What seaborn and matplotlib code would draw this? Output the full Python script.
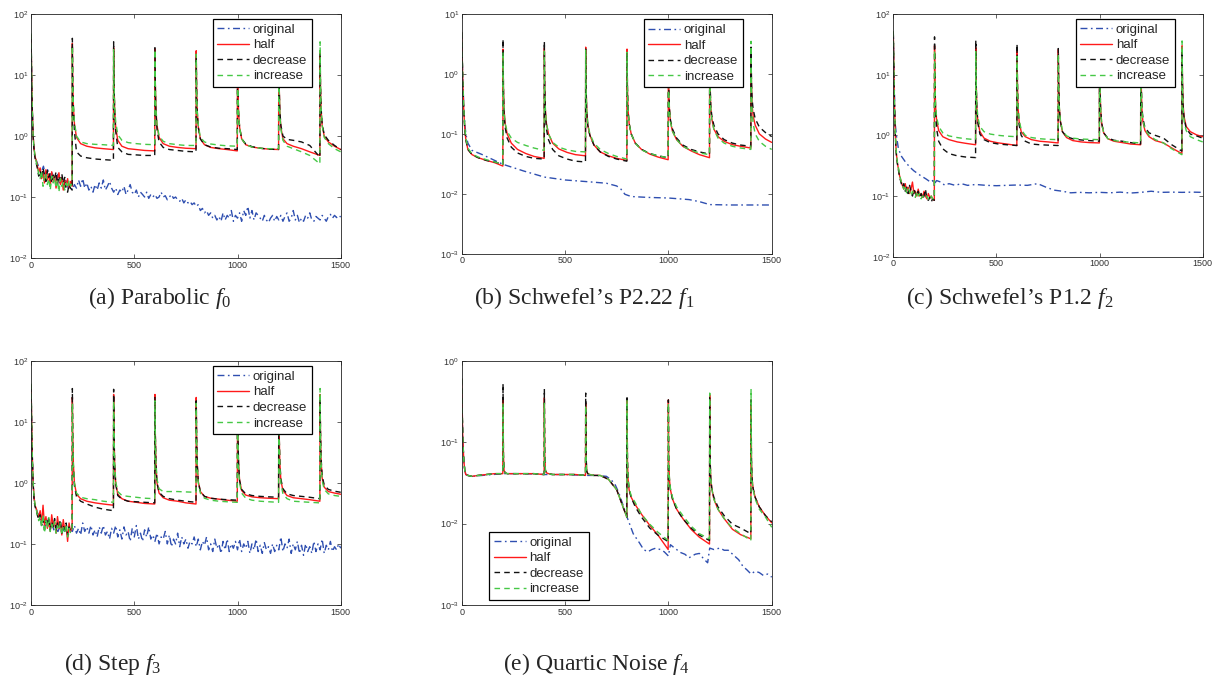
import matplotlib
matplotlib.use('Agg')
import math
import matplotlib.pyplot as plt
from matplotlib.lines import Line2D
from matplotlib.ticker import FixedLocator, FuncFormatter, NullLocator
import seaborn as sns

sns.set_theme(style='ticks')
plt.rcParams['font.family'] = ['Liberation Sans', 'DejaVu Sans']
plt.rcParams['mathtext.fontset'] = 'custom'
plt.rcParams['mathtext.rm'] = 'Liberation Serif'
plt.rcParams['mathtext.it'] = 'Liberation Serif:italic'
plt.rcParams['mathtext.sf'] = 'Liberation Sans'

# ---- shared sample grids ----
restarts = [200, 400, 600, 800, 1000, 1200, 1400]
seg_t = [0, 2, 5, 10, 20, 40, 70, 110, 150, 199]
last_t = [0, 2, 5, 10, 20, 40, 70, 100]
start_noisy = [0, 2, 5, 10, 15, 20, 25, 30, 37, 44, 51, 58, 65, 72, 79, 86,
               93, 100, 107, 114, 121, 128, 135, 142, 149, 156, 163, 170, 177, 184, 191, 199]
start_smooth = [0, 2, 5, 10, 15, 20, 30, 50, 80, 120, 160, 199]
x_dense = [0, 2, 5, 10, 15, 20, 25, 30] + list(range(40, 1501, 10))

# ---- (a) Parabolic ----
a_half0 = [45, 15, 3.5, 1.0, 0.6, 0.45, 0.4, 0.33, 0.26, 0.3, 0.2, 0.25, 0.17, 0.28, 0.19, 0.24,
           0.15, 0.26, 0.18, 0.22, 0.14, 0.2, 0.25, 0.16, 0.21, 0.13, 0.19, 0.15, 0.2, 0.14, 0.18, 0.15]
a_dec0 = [42, 14, 3.2, 0.95, 0.55, 0.42, 0.36, 0.3, 0.22, 0.27, 0.2, 0.3, 0.23, 0.18, 0.27, 0.21,
          0.25, 0.17, 0.23, 0.2, 0.26, 0.16, 0.22, 0.19, 0.24, 0.17, 0.21, 0.13, 0.12, 0.16, 0.14, 0.13]
a_inc0 = [48, 16, 3.8, 1.0, 0.6, 0.46, 0.38, 0.32, 0.24, 0.2, 0.27, 0.15, 0.22, 0.25, 0.16, 0.2,
          0.13, 0.22, 0.17, 0.21, 0.14, 0.19, 0.12, 0.2, 0.15, 0.18, 0.13, 0.17, 0.14, 0.19, 0.15, 0.17]
a_half = [[33, 8, 3, 1.6, 0.95, 0.75, 0.68, 0.64, 0.62, 0.6],
          [28, 7, 2.6, 1.4, 0.85, 0.68, 0.62, 0.6, 0.58, 0.57],
          [27, 7, 2.6, 1.5, 0.95, 0.75, 0.68, 0.65, 0.63, 0.62],
          [25, 6.5, 2.5, 1.4, 0.9, 0.72, 0.65, 0.62, 0.6, 0.57],
          [25, 6.5, 2.5, 1.4, 0.9, 0.72, 0.66, 0.63, 0.61, 0.6],
          [25, 6.5, 2.5, 1.4, 0.9, 0.75, 0.68, 0.62, 0.55, 0.48],
          [25, 6.5, 2.6, 1.5, 1.0, 0.8, 0.68, 0.6]]
a_dec = [[40, 8, 3, 1.2, 0.55, 0.47, 0.44, 0.42, 0.41, 0.4],
         [35, 7, 2.5, 1.2, 0.65, 0.55, 0.5, 0.49, 0.48, 0.48],
         [28, 6.5, 2.4, 1.3, 0.8, 0.65, 0.6, 0.58, 0.56, 0.55],
         [20, 6, 2.4, 1.4, 0.9, 0.72, 0.66, 0.63, 0.62, 0.6],
         [22, 6, 2.4, 1.4, 0.9, 0.74, 0.67, 0.63, 0.61, 0.6],
         [22, 6.5, 2.6, 1.5, 1.0, 0.88, 0.85, 0.8, 0.7, 0.45],
         [22, 7, 2.8, 1.6, 1.05, 0.85, 0.7, 0.6]]
a_inc = [[30, 8, 3.2, 1.7, 1.0, 0.8, 0.75, 0.73, 0.72, 0.7],
         [26, 7.5, 3, 1.7, 1.05, 0.85, 0.78, 0.75, 0.73, 0.72],
         [26, 7, 2.8, 1.6, 1.0, 0.82, 0.75, 0.72, 0.7, 0.7],
         [22, 6.5, 2.6, 1.5, 0.95, 0.8, 0.74, 0.71, 0.69, 0.68],
         [22, 6.5, 2.5, 1.4, 0.9, 0.72, 0.66, 0.63, 0.62, 0.62],
         [20, 6, 2.4, 1.3, 0.85, 0.68, 0.62, 0.55, 0.48, 0.35],
         [35, 8, 3, 1.5, 0.95, 0.75, 0.62, 0.55]]
a_orig = [45, 15, 3.5, 1.0, 0.6, 0.45, 0.4, 0.36,
          0.3, 0.26, 0.32, 0.22, 0.28, 0.2, 0.25, 0.22, 0.18, 0.24, 0.17, 0.21, 0.15, 0.2, 0.14, 0.16,
          0.13, 0.16, 0.14, 0.19, 0.15, 0.2, 0.14, 0.17, 0.13, 0.15, 0.12, 0.16, 0.13, 0.17, 0.14, 0.19, 0.13, 0.15, 0.18, 0.14,
          0.12, 0.14, 0.11, 0.13, 0.12, 0.15, 0.11, 0.13, 0.16, 0.12, 0.11, 0.13, 0.1, 0.12, 0.11, 0.1, 0.12, 0.095, 0.11, 0.1,
          0.11, 0.095, 0.1, 0.12, 0.1, 0.105, 0.09, 0.1, 0.11, 0.095, 0.1, 0.09, 0.085, 0.095, 0.08, 0.09, 0.08, 0.085, 0.075, 0.08,
          0.07, 0.075, 0.06, 0.065, 0.055, 0.06, 0.05, 0.055, 0.045, 0.05, 0.042, 0.048, 0.04, 0.055, 0.042, 0.05, 0.045, 0.06, 0.04, 0.05,
          0.045, 0.055, 0.04, 0.06, 0.05, 0.07, 0.045, 0.06, 0.042, 0.055, 0.05, 0.045, 0.04, 0.05, 0.042, 0.038, 0.045, 0.05, 0.04, 0.048,
          0.042, 0.05, 0.04, 0.048, 0.055, 0.04, 0.045, 0.06, 0.042, 0.05, 0.038, 0.045, 0.04, 0.05, 0.045, 0.055, 0.042, 0.04, 0.048, 0.045,
          0.042, 0.05, 0.045, 0.04, 0.048, 0.052, 0.045, 0.05, 0.046, 0.05, 0.047]

# ---- (b) Schwefel's P2.22 ----
b_half0 = [5, 2.5, 0.8, 0.25, 0.12, 0.08, 0.055, 0.045, 0.04, 0.036, 0.033, 0.029]
b_dec0 = [4.8, 2.4, 0.8, 0.25, 0.12, 0.08, 0.055, 0.045, 0.04, 0.036, 0.034, 0.031]
b_inc0 = [5, 2.6, 0.85, 0.27, 0.13, 0.085, 0.058, 0.046, 0.041, 0.037, 0.034, 0.031]
b_half = [[2.6, 0.6, 0.25, 0.15, 0.1, 0.07, 0.055, 0.047, 0.042, 0.039],
          [2.7, 0.6, 0.25, 0.15, 0.1, 0.07, 0.056, 0.049, 0.045, 0.043],
          [2.8, 0.6, 0.25, 0.14, 0.095, 0.065, 0.05, 0.043, 0.039, 0.036],
          [2.6, 0.6, 0.25, 0.15, 0.1, 0.07, 0.055, 0.046, 0.041, 0.037],
          [2.5, 0.6, 0.26, 0.16, 0.11, 0.08, 0.062, 0.052, 0.045, 0.04],
          [2.5, 0.6, 0.28, 0.18, 0.12, 0.09, 0.075, 0.066, 0.062, 0.058],
          [2.6, 0.7, 0.3, 0.2, 0.14, 0.1, 0.082, 0.072]]
b_dec = [[3.8, 0.6, 0.22, 0.13, 0.085, 0.06, 0.048, 0.042, 0.039, 0.038],
         [3.5, 0.6, 0.22, 0.12, 0.08, 0.055, 0.043, 0.038, 0.035, 0.034],
         [2.6, 0.55, 0.23, 0.14, 0.095, 0.065, 0.05, 0.042, 0.038, 0.035],
         [2.3, 0.55, 0.24, 0.15, 0.1, 0.07, 0.055, 0.047, 0.043, 0.04],
         [2.5, 0.6, 0.27, 0.17, 0.12, 0.085, 0.065, 0.055, 0.05, 0.046],
         [2.5, 0.65, 0.3, 0.2, 0.14, 0.1, 0.08, 0.07, 0.065, 0.062],
         [2.8, 0.8, 0.38, 0.26, 0.18, 0.13, 0.105, 0.09]]
b_inc = [[2.3, 0.55, 0.24, 0.15, 0.11, 0.085, 0.072, 0.064, 0.058, 0.053],
         [2.4, 0.6, 0.25, 0.15, 0.1, 0.072, 0.06, 0.054, 0.051, 0.05],
         [2.5, 0.58, 0.25, 0.15, 0.1, 0.07, 0.055, 0.047, 0.042, 0.038],
         [2.3, 0.55, 0.24, 0.15, 0.1, 0.07, 0.054, 0.047, 0.043, 0.04],
         [2.4, 0.6, 0.26, 0.16, 0.11, 0.08, 0.062, 0.053, 0.048, 0.045],
         [2.4, 0.6, 0.27, 0.17, 0.12, 0.085, 0.07, 0.062, 0.058, 0.055],
         [3.5, 0.6, 0.25, 0.15, 0.1, 0.075, 0.062, 0.055]]
b_orig_x = [0, 2, 5, 10, 15, 20, 30, 50, 100, 200, 300, 400, 500, 600, 700, 750, 770, 790, 820,
            900, 1000, 1100, 1150, 1200, 1300, 1400, 1500]
b_orig = [5, 2.5, 0.9, 0.3, 0.15, 0.1, 0.07, 0.053, 0.045, 0.031, 0.024, 0.019, 0.017, 0.016, 0.015,
          0.0135, 0.012, 0.0098, 0.009, 0.0087, 0.0085, 0.008, 0.0074, 0.0066, 0.0065, 0.0065, 0.0065]

# ---- (c) Schwefel's P1.2 ----
c_half0 = [50, 20, 4, 1.0, 0.5, 0.35, 0.28, 0.22, 0.18, 0.15, 0.13, 0.16, 0.12, 0.14, 0.11, 0.13,
           0.17, 0.11, 0.12, 0.1, 0.13, 0.1, 0.11, 0.095, 0.12, 0.1, 0.09, 0.11, 0.095, 0.1, 0.088, 0.085]
c_dec0 = [48, 19, 3.8, 0.95, 0.48, 0.34, 0.27, 0.21, 0.17, 0.14, 0.16, 0.12, 0.14, 0.11, 0.15, 0.12,
          0.1, 0.13, 0.11, 0.1, 0.12, 0.095, 0.11, 0.09, 0.1, 0.13, 0.09, 0.085, 0.095, 0.08, 0.09, 0.085]
c_inc0 = [52, 21, 4.2, 1.05, 0.52, 0.36, 0.29, 0.23, 0.18, 0.15, 0.13, 0.15, 0.11, 0.13, 0.12, 0.1,
          0.12, 0.11, 0.095, 0.12, 0.1, 0.11, 0.09, 0.1, 0.095, 0.09, 0.1, 0.09, 0.085, 0.1, 0.09, 0.09]
c_half = [[30, 8, 3, 1.8, 1.2, 0.95, 0.85, 0.78, 0.74, 0.7],
          [28, 7, 2.8, 1.7, 1.15, 0.9, 0.8, 0.75, 0.72, 0.68],
          [25, 7, 2.8, 1.7, 1.15, 0.95, 0.85, 0.8, 0.78, 0.75],
          [26, 7, 2.8, 1.7, 1.15, 0.92, 0.82, 0.78, 0.76, 0.75],
          [25, 7, 2.8, 1.6, 1.1, 0.88, 0.8, 0.76, 0.72, 0.7],
          [25, 7, 2.8, 1.7, 1.2, 0.95, 0.82, 0.75, 0.62, 0.5],
          [30, 8, 3.2, 2.0, 1.4, 1.15, 1.02, 0.95]]
c_dec = [[42, 8, 2.5, 1.3, 0.8, 0.6, 0.5, 0.46, 0.44, 0.43],
         [37, 7.5, 2.8, 1.6, 1.05, 0.85, 0.76, 0.72, 0.7, 0.68],
         [32, 7, 2.6, 1.5, 1.0, 0.8, 0.72, 0.7, 0.69, 0.68],
         [27, 7, 2.8, 1.7, 1.15, 0.95, 0.88, 0.84, 0.82, 0.8],
         [25, 7, 2.8, 1.6, 1.1, 0.9, 0.83, 0.8, 0.76, 0.72],
         [25, 7.5, 3, 1.9, 1.35, 1.1, 1.0, 0.9, 0.7, 0.55],
         [25, 7.5, 3, 1.9, 1.3, 1.05, 0.98, 0.9]]
c_inc = [[25, 8, 3.2, 2.0, 1.4, 1.1, 0.98, 0.92, 0.88, 0.85],
         [24, 7.5, 3.2, 2.0, 1.4, 1.15, 1.05, 1.0, 0.97, 0.95],
         [20, 7, 3, 1.8, 1.25, 1.0, 0.92, 0.88, 0.86, 0.85],
         [22, 7, 2.9, 1.8, 1.2, 0.98, 0.9, 0.87, 0.86, 0.85],
         [22, 7, 2.8, 1.6, 1.1, 0.88, 0.82, 0.79, 0.77, 0.75],
         [22, 7, 2.8, 1.8, 1.25, 1.0, 0.85, 0.75, 0.6, 0.48],
         [36, 7, 2.8, 1.7, 1.2, 0.95, 0.85, 0.78]]
c_orig_x = [0, 2, 5, 10, 15, 25, 40, 60, 80, 100, 130, 160, 180, 190, 200, 210, 230, 250, 270, 300,
            330, 360, 400, 450, 500, 550, 600, 650, 700, 740, 780, 820, 860, 900, 950, 1000, 1050,
            1100, 1150, 1200, 1250, 1300, 1350, 1400, 1450, 1500]
c_orig = [50, 25, 6, 1.5, 1.0, 0.6, 0.45, 0.36, 0.3, 0.26, 0.22, 0.19, 0.17, 0.18, 0.16, 0.18, 0.17,
          0.15, 0.16, 0.15, 0.16, 0.15, 0.155, 0.15, 0.148, 0.15, 0.152, 0.15, 0.16, 0.14, 0.125, 0.12,
          0.113, 0.115, 0.113, 0.115, 0.113, 0.116, 0.112, 0.115, 0.12, 0.115, 0.116, 0.115, 0.116, 0.115]

# ---- (d) Step ----
d_half0 = [40, 15, 3.5, 1.0, 0.55, 0.42, 0.38, 0.32, 0.28, 0.35, 0.22, 0.43, 0.2, 0.28, 0.18, 0.25,
           0.16, 0.3, 0.2, 0.24, 0.15, 0.28, 0.18, 0.22, 0.14, 0.25, 0.17, 0.2, 0.11, 0.22, 0.16, 0.19]
d_dec0 = [38, 14, 3.3, 0.95, 0.5, 0.4, 0.36, 0.3, 0.25, 0.3, 0.2, 0.26, 0.17, 0.24, 0.2, 0.28,
          0.17, 0.23, 0.19, 0.26, 0.16, 0.22, 0.19, 0.25, 0.15, 0.2, 0.17, 0.22, 0.14, 0.19, 0.16, 0.18]
d_inc0 = [42, 16, 3.7, 1.05, 0.56, 0.43, 0.37, 0.31, 0.24, 0.28, 0.19, 0.3, 0.15, 0.24, 0.18, 0.27,
          0.16, 0.21, 0.18, 0.23, 0.15, 0.2, 0.17, 0.22, 0.14, 0.19, 0.16, 0.21, 0.13, 0.18, 0.15, 0.17]
d_half = [[25, 6, 2, 1.0, 0.65, 0.55, 0.5, 0.47, 0.45, 0.43],
          [28, 6, 2, 1.0, 0.65, 0.55, 0.5, 0.48, 0.46, 0.45],
          [28, 6, 2, 1.0, 0.68, 0.57, 0.52, 0.5, 0.47, 0.45],
          [25, 6, 2, 1.05, 0.72, 0.6, 0.56, 0.54, 0.52, 0.5],
          [22, 6, 2.1, 1.1, 0.75, 0.63, 0.59, 0.57, 0.56, 0.55],
          [22, 6, 2.1, 1.1, 0.75, 0.62, 0.57, 0.55, 0.53, 0.5],
          [28, 6.5, 2.3, 1.2, 0.85, 0.72, 0.68, 0.65]]
d_dec = [[35, 6, 1.8, 0.9, 0.6, 0.5, 0.45, 0.4, 0.37, 0.35],
         [34, 6, 1.9, 0.95, 0.62, 0.54, 0.5, 0.49, 0.48, 0.47],
         [25, 6, 2, 1.0, 0.7, 0.6, 0.55, 0.52, 0.5, 0.48],
         [22, 6, 2, 1.05, 0.72, 0.6, 0.56, 0.54, 0.53, 0.52],
         [22, 6, 2.1, 1.1, 0.78, 0.66, 0.62, 0.6, 0.59, 0.58],
         [22, 6, 2.2, 1.15, 0.8, 0.66, 0.62, 0.6, 0.58, 0.55],
         [25, 7, 2.5, 1.3, 0.92, 0.78, 0.73, 0.7]]
d_inc = [[20, 5.5, 2, 1.0, 0.68, 0.58, 0.55, 0.53, 0.5, 0.48],
         [22, 6, 2.1, 1.05, 0.72, 0.62, 0.6, 0.58, 0.56, 0.55],
         [22, 6, 2.2, 1.15, 0.8, 0.72, 0.72, 0.72, 0.71, 0.7],
         [20, 5.8, 2, 1.0, 0.68, 0.56, 0.52, 0.5, 0.49, 0.48],
         [20, 5.5, 1.9, 1.0, 0.68, 0.56, 0.52, 0.5, 0.49, 0.48],
         [20, 5.5, 1.9, 1.0, 0.66, 0.55, 0.5, 0.49, 0.48, 0.47],
         [35, 6, 2.1, 1.1, 0.78, 0.66, 0.62, 0.6]]
d_orig = [40, 15, 3.5, 1.0, 0.55, 0.42, 0.38, 0.33,
          0.28, 0.22, 0.26, 0.2, 0.24, 0.18, 0.22, 0.17, 0.2, 0.16, 0.19, 0.15, 0.18, 0.16, 0.14, 0.17,
          0.16, 0.2, 0.15, 0.18, 0.14, 0.22, 0.16, 0.19, 0.15, 0.2, 0.14, 0.17, 0.13, 0.19, 0.15, 0.2, 0.14, 0.16, 0.12, 0.18,
          0.15, 0.2, 0.13, 0.17, 0.12, 0.19, 0.14, 0.16, 0.11, 0.18, 0.13, 0.2, 0.12, 0.15, 0.11, 0.17, 0.13, 0.19, 0.12, 0.14,
          0.11, 0.15, 0.1, 0.13, 0.12, 0.16, 0.1, 0.14, 0.09, 0.12, 0.1, 0.15, 0.09, 0.13, 0.1, 0.12, 0.085, 0.11, 0.1, 0.13,
          0.09, 0.12, 0.08, 0.11, 0.095, 0.13, 0.08, 0.1, 0.075, 0.12, 0.085, 0.1, 0.07, 0.11, 0.08, 0.12, 0.075, 0.1, 0.085, 0.11,
          0.08, 0.12, 0.075, 0.1, 0.085, 0.11, 0.07, 0.1, 0.08, 0.12, 0.075, 0.095, 0.07, 0.105, 0.08, 0.09, 0.07, 0.1, 0.075, 0.095,
          0.08, 0.13, 0.075, 0.1, 0.085, 0.12, 0.07, 0.1, 0.08, 0.11, 0.07, 0.095, 0.065, 0.1, 0.075, 0.09, 0.07, 0.11, 0.075, 0.1,
          0.08, 0.12, 0.07, 0.095, 0.08, 0.11, 0.075, 0.09, 0.08, 0.1, 0.085]

# ---- (e) Quartic Noise ----
e_start0 = [0.6, 0.3, 0.12, 0.06, 0.045, 0.04, 0.039, 0.038, 0.039, 0.04, 0.041, 0.041]
e_half = [[0.35, 0.07, 0.045, 0.042, 0.041, 0.041, 0.041, 0.041, 0.041, 0.04],
          [0.35, 0.07, 0.045, 0.042, 0.041, 0.04, 0.04, 0.04, 0.04, 0.039],
          [0.3, 0.065, 0.044, 0.041, 0.04, 0.039, 0.039, 0.035, 0.026, 0.012],
          [0.33, 0.06, 0.035, 0.026, 0.021, 0.017, 0.013, 0.0095, 0.0072, 0.0048],
          [0.33, 0.06, 0.035, 0.026, 0.02, 0.015, 0.0115, 0.0085, 0.0068, 0.0056],
          [0.38, 0.06, 0.036, 0.027, 0.02, 0.015, 0.0115, 0.0085, 0.0073, 0.0065],
          [0.33, 0.06, 0.035, 0.027, 0.021, 0.016, 0.0125, 0.0102]]
e_dec = [[0.52, 0.07, 0.045, 0.042, 0.041, 0.041, 0.041, 0.041, 0.041, 0.04],
         [0.45, 0.07, 0.045, 0.042, 0.041, 0.04, 0.04, 0.04, 0.04, 0.039],
         [0.4, 0.065, 0.044, 0.041, 0.04, 0.039, 0.039, 0.035, 0.026, 0.012],
         [0.35, 0.06, 0.035, 0.026, 0.021, 0.016, 0.012, 0.0088, 0.0072, 0.006],
         [0.33, 0.06, 0.035, 0.026, 0.02, 0.015, 0.0115, 0.0088, 0.0072, 0.0062],
         [0.35, 0.06, 0.036, 0.027, 0.021, 0.016, 0.0125, 0.0098, 0.0088, 0.0075],
         [0.35, 0.06, 0.035, 0.027, 0.021, 0.016, 0.0125, 0.0105]]
e_inc = [[0.3, 0.07, 0.045, 0.042, 0.041, 0.041, 0.041, 0.041, 0.041, 0.04],
         [0.3, 0.07, 0.045, 0.042, 0.041, 0.04, 0.04, 0.04, 0.04, 0.039],
         [0.28, 0.065, 0.044, 0.041, 0.04, 0.039, 0.039, 0.035, 0.026, 0.012],
         [0.33, 0.06, 0.036, 0.027, 0.022, 0.018, 0.013, 0.0098, 0.0078, 0.0062],
         [0.3, 0.06, 0.036, 0.027, 0.021, 0.016, 0.0125, 0.0093, 0.0075, 0.0065],
         [0.4, 0.06, 0.036, 0.027, 0.02, 0.015, 0.0115, 0.0088, 0.0075, 0.0062],
         [0.45, 0.06, 0.034, 0.026, 0.02, 0.015, 0.012, 0.009]]
e_orig_x = [0, 2, 5, 10, 15, 20, 30, 50, 100, 200, 300, 400, 500, 600, 650, 700, 720, 740, 760, 780,
            800, 815, 830, 860, 880, 900, 920, 940, 960, 980, 1000, 1010, 1030, 1060, 1080, 1100, 1130,
            1150, 1170, 1190, 1200, 1220, 1250, 1270, 1290, 1320, 1340, 1360, 1380, 1400, 1420, 1440,
            1460, 1480, 1500]
e_orig = [0.6, 0.3, 0.12, 0.06, 0.045, 0.04, 0.039, 0.038, 0.039, 0.041, 0.041, 0.04, 0.04, 0.039,
          0.039, 0.038, 0.035, 0.031, 0.024, 0.017, 0.012, 0.0095, 0.0075, 0.0058, 0.0048, 0.0045,
          0.0048, 0.005, 0.0048, 0.0045, 0.004, 0.0055, 0.005, 0.0044, 0.0042, 0.0038, 0.0042, 0.0043,
          0.0037, 0.0033, 0.005, 0.0048, 0.005, 0.0047, 0.0047, 0.004, 0.0036, 0.003, 0.0027, 0.0024,
          0.0026, 0.0025, 0.0023, 0.0024, 0.0022]

labels = ['original', 'half', 'decrease', 'increase']
colors = {'original': '#2f4fb0', 'half': '#ff1a1a', 'decrease': '#111111', 'increase': '#46c846'}
styles = {'original': (0, (5, 2.5, 1.2, 2.5)), 'half': '-', 'decrease': (0, (4, 3)), 'increase': (0, (4, 3))}
LW = 1.0


def restart_x(first_x):
    xs = list(first_x)
    for r in restarts:
        offs = last_t if r == restarts[-1] else seg_t
        xs += [r + o for o in offs]
    return xs


def joined(first, segs):
    ys = list(first)
    for s in segs:
        ys += s
    return ys


def sup_fmt(v, pos):
    return r'$\mathsf{10^{%d}}$' % round(math.log10(v))


panels = [
    dict(pos=[0.0254, 0.6228, 0.2532, 0.3567], ylim=(1e-2, 1e2), caption=r'(a) Parabolic $f_0$', cap=(160, 298),
         orig=(x_dense, a_orig), first_x=start_noisy, series=[a_half0, a_half, a_dec0, a_dec, a_inc0, a_inc],
         leg=dict(loc='upper right', bbox_to_anchor=(0.907, 0.98))),
    dict(pos=[0.3775, 0.6291, 0.2535, 0.3504], ylim=(1e-3, 1e1), caption=r"(b) Schwefel’s P2.22 $f_1$", cap=(584, 298),
         orig=(b_orig_x, b_orig), first_x=start_smooth, series=[b_half0, b_half, b_dec0, b_dec, b_inc0, b_inc],
         leg=dict(loc='upper right', bbox_to_anchor=(0.907, 0.978))),
    dict(pos=[0.7304, 0.6247, 0.2530, 0.3548], ylim=(1e-2, 1e2), caption=r"(c) Schwefel’s P1.2 $f_2$", cap=(1010, 298),
         orig=(c_orig_x, c_orig), first_x=start_noisy, series=[c_half0, c_half, c_dec0, c_dec, c_inc0, c_inc],
         leg=dict(loc='upper right', bbox_to_anchor=(0.910, 0.98))),
    dict(pos=[0.0254, 0.1155, 0.2532, 0.3572], ylim=(1e-2, 1e2), caption=r'(d) Step $f_3$', cap=(113, 664),
         orig=(x_dense, d_orig), first_x=start_noisy, series=[d_half0, d_half, d_dec0, d_dec, d_inc0, d_inc],
         leg=dict(loc='upper right', bbox_to_anchor=(0.907, 0.978))),
    dict(pos=[0.3775, 0.1155, 0.2535, 0.3572], ylim=(1e-3, 1e0), caption=r'(e) Quartic Noise $f_4$', cap=(596, 664),
         orig=(e_orig_x, e_orig), first_x=start_smooth, series=[e_start0, e_half, e_start0, e_dec, e_start0, e_inc],
         leg=dict(loc='lower left', bbox_to_anchor=(0.089, 0.02))),
]

fig = plt.figure(figsize=(12.23, 6.84), dpi=100)
for p in panels:
    ax = fig.add_axes(p['pos'])
    ax.set_yscale('log')
    xo, yo = p['orig']
    sns.lineplot(x=xo, y=yo, ax=ax, color=colors['original'], linestyle=styles['original'],
                 lw=LW, estimator=None, sort=False)
    xr = restart_x(p['first_x'])
    s = p['series']
    for name, first, segs in [('half', s[0], s[1]), ('decrease', s[2], s[3]), ('increase', s[4], s[5])]:
        sns.lineplot(x=xr, y=joined(first, segs), ax=ax, color=colors[name], linestyle=styles[name],
                     lw=LW, estimator=None, sort=False)
    ax.set_xlim(0, 1500)
    ax.set_ylim(*p['ylim'])
    lo, hi = p['ylim']
    dec = []
    v = lo
    while v <= hi * 1.001:
        dec.append(v)
        v *= 10
    ax.yaxis.set_major_locator(FixedLocator(dec))
    ax.yaxis.set_major_formatter(FuncFormatter(sup_fmt))
    ax.yaxis.set_minor_locator(NullLocator())
    ax.set_xticks([0, 500, 1000, 1500])
    ax.tick_params(direction='in', length=3, width=0.5, top=True, right=True,
                   labelsize=6.5, labelcolor='#333333', pad=2)
    for sp in ax.spines.values():
        sp.set_color('#222222')
        sp.set_linewidth(0.6)
    handles = [Line2D([], [], color=colors[k], linestyle=styles[k], lw=LW) for k in labels]
    leg = ax.legend(handles, labels, fontsize=9.5, frameon=True, fancybox=False, framealpha=1,
                    edgecolor='black', handlelength=2.4, handletextpad=0.3, labelspacing=0.25,
                    borderpad=0.35, borderaxespad=0, **p['leg'])
    leg.get_frame().set_linewidth(0.9)
    fig.text(p['cap'][0] / 1223, 1 - p['cap'][1] / 684, p['caption'], ha='center', va='center',
             fontsize=17, family='Liberation Serif')

fig.savefig('out.png', dpi=100, facecolor='white')
